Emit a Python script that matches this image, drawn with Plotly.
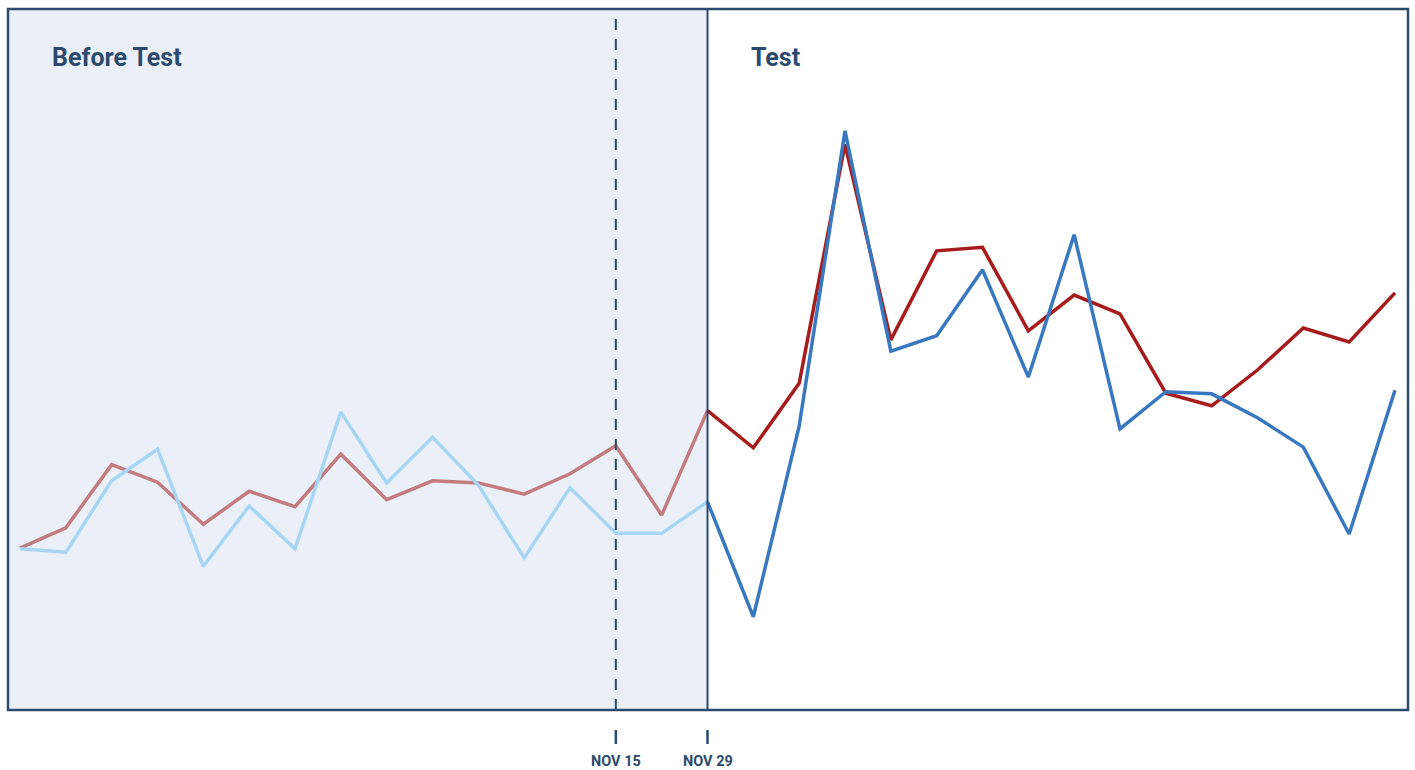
import plotly.graph_objects as go

# weekly index positions
weeks = list(range(31))
tick_positions = [13, 15]
tick_labels = ["NOV 15", "NOV 29"]
test_start = 15

control = [23.1, 26.0, 35.0, 32.5, 26.5, 31.2, 29.0, 36.5, 30.0, 32.7, 32.4, 30.8, 33.7, 37.7, 27.8, 42.7,
           37.4, 46.6, 80.7, 52.8, 65.5, 66.0, 54.1, 59.2, 56.5, 45.2, 43.4, 48.5, 54.5, 52.5, 59.5]
treatment = [23.0, 22.5, 32.7, 37.2, 20.5, 29.1, 23.0, 42.5, 32.4, 38.9, 32.1, 21.7, 31.7, 25.2, 25.2, 29.7,
             13.3, 40.5, 82.6, 51.2, 53.4, 62.8, 47.5, 67.8, 40.1, 45.4, 45.1, 41.7, 37.5, 25.1, 45.6]

NAVY = "#2b4a6e"
x_range = [-0.262, 30.284]

fig = go.Figure()
pre_x = weeks[:test_start + 1]
post_x = weeks[test_start:]
fig.add_trace(go.Scatter(x=pre_x, y=control[:test_start + 1], mode="lines",
                         line=dict(color="#c27c80", width=3.5), hoverinfo="skip"))
fig.add_trace(go.Scatter(x=pre_x, y=treatment[:test_start + 1], mode="lines",
                         line=dict(color="#a7d6f5", width=3.5), hoverinfo="skip"))
fig.add_trace(go.Scatter(x=post_x, y=control[test_start:], mode="lines",
                         line=dict(color="#a61b1b", width=3.5), hoverinfo="skip"))
fig.add_trace(go.Scatter(x=post_x, y=treatment[test_start:], mode="lines",
                         line=dict(color="#3878c0", width=3.5), hoverinfo="skip"))

shapes = [
    dict(type="rect", xref="x", yref="paper", x0=x_range[0], x1=test_start, y0=0, y1=1,
         fillcolor="#ebf0f8", line=dict(width=0), layer="below"),
    dict(type="line", xref="x", yref="paper", x0=tick_positions[0], x1=tick_positions[0], y0=0, y1=1,
         line=dict(color=NAVY, width=2, dash="11px,9px")),
    dict(type="line", xref="x", yref="paper", x0=test_start, x1=test_start, y0=0, y1=1,
         line=dict(color=NAVY, width=2)),
    dict(type="rect", xref="paper", yref="paper", x0=0, x1=1, y0=0, y1=1,
         line=dict(color=NAVY, width=2.5), fillcolor="rgba(0,0,0,0)"),
]
for tp in tick_positions:
    shapes.append(dict(type="line", xref="x", yref="paper", x0=tp, x1=tp, y0=-0.0285, y1=-0.0485,
                       line=dict(color=NAVY, width=2.5)))

annotations = [
    dict(text="<b>Before Test</b>", xref="paper", yref="paper", x=(50 - 8) / 1400, y=(710 - 57) / 701,
         xanchor="left", yanchor="middle", showarrow=False,
         font=dict(family="Roboto", size=25, color=NAVY)),
    dict(text="<b>Test</b>", xref="paper", yref="paper", x=(749 - 8) / 1400, y=(710 - 57) / 701,
         xanchor="left", yanchor="middle", showarrow=False,
         font=dict(family="Roboto", size=25, color=NAVY)),
]
for tp, tl in zip(tick_positions, tick_labels):
    annotations.append(dict(text="<b>" + tl + "</b>", xref="x", yref="paper", x=tp, y=-0.074,
                            xanchor="center", yanchor="middle", showarrow=False,
                            font=dict(family="Roboto", size=14.5, color=NAVY)))

fig.update_layout(
    width=1415, height=770,
    margin=dict(l=8, r=7, t=9, b=60),
    paper_bgcolor="white", plot_bgcolor="white",
    showlegend=False,
    xaxis=dict(range=x_range, showgrid=False, zeroline=False, showticklabels=False, ticks=""),
    yaxis=dict(range=[0, 100], showgrid=False, zeroline=False, showticklabels=False, ticks=""),
    shapes=shapes,
    annotations=annotations,
)

fig.write_html("out.html")
